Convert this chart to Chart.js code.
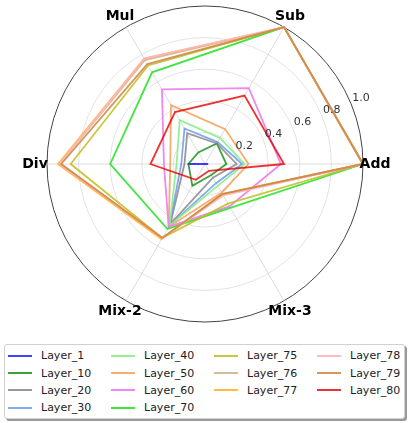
<!DOCTYPE html>
<html>
<head>
<meta charset="utf-8">
<script src="https://cdn.jsdelivr.net/npm/chart.js@4"></script>
<style>
  body { margin: 0; background: #fff; }
  #wrap { position: relative; width: 409px; height: 423px; }
  #radar { position: absolute; left: 0; top: 0; }
  #legend {
    position: absolute; left: 4px; top: 344px; width: 396px; height: 71px;
    border: 1px solid #d0d0d0; border-radius: 3px;
    box-shadow: 2px 2px 0 #9a9a9a; background: #fff;
    display: grid; grid-template-columns: repeat(4, 103px); grid-template-rows: repeat(4, 17.4px);
    padding: 2px 0 0 3px; box-sizing: content-box;
    font: 11px "DejaVu Sans", sans-serif; color: #222;
  }
  .item { display: flex; align-items: center; }
  .swatch { width: 24px; height: 2px; margin-right: 9px; }
</style>
</head>
<body>
<div id="wrap">
  <canvas id="radar" width="409" height="335"></canvas>
  <div id="legend"></div>
</div>
<script>
// axes in the original counter-clockwise order, starting at the right
const categories = ["Add", "Sub", "Mul", "Div", "Mix-2", "Mix-3"];
const tickValues = [0.2, 0.4, 0.6, 0.8, 1.0];

const layerNames = ["Layer_1", "Layer_10", "Layer_20", "Layer_30", "Layer_40", "Layer_50", "Layer_60",
  "Layer_70", "Layer_75", "Layer_76", "Layer_77", "Layer_78", "Layer_79", "Layer_80"];

const layer1  = [0.02, 0.0, 0.0, 0.11, 0.0, 0.0];
const layer10 = [0.135, 0.15, 0.085, 0.105, 0.16, 0.08];
const layer20 = [0.20, 0.15, 0.225, 0.13, 0.44, 0.10];
const layer30 = [0.235, 0.16, 0.26, 0.15, 0.45, 0.14];
const layer40 = [0.25, 0.19, 0.32, 0.18, 0.45, 0.16];
const layer50 = [0.275, 0.255, 0.43, 0.22, 0.46, 0.21];
const layer60 = [0.48, 0.555, 0.545, 0.26, 0.46, 0.31];
const layer70 = [1.0, 1.0, 0.67, 0.60, 0.475, 0.32];
const layer75 = [1.0, 1.0, 0.72, 0.85, 0.54, 0.29];
const layer76 = [1.0, 1.0, 0.76, 0.92, 0.54, 0.22];
const layer77 = [1.0, 1.0, 0.77, 0.93, 0.55, 0.22];
const layer78 = [1.0, 1.0, 0.77, 0.92, 0.54, 0.23];
const layer79 = [1.0, 1.0, 0.73, 0.91, 0.54, 0.22];
const layer80 = [0.50, 0.50, 0.38, 0.345, 0.115, 0.05];

const layerValues = [layer1, layer10, layer20, layer30, layer40, layer50, layer60,
  layer70, layer75, layer76, layer77, layer78, layer79, layer80];

const colors = [
  "rgba(0,0,255,0.75)", "rgba(0,128,0,0.75)", "rgba(128,128,128,0.8)", "rgba(100,149,237,0.8)",
  "rgba(144,238,144,0.95)", "rgba(244,164,96,0.9)", "rgba(238,130,238,0.95)", "rgba(30,225,30,0.85)",
  "rgba(190,190,30,0.85)", "rgba(210,180,140,0.9)", "rgba(255,165,0,0.75)", "rgba(255,182,193,0.95)",
  "rgba(205,133,63,0.85)", "rgba(230,0,0,0.8)"
];

// chart.js goes clockwise, so walk the axes backwards from "Add"
const order = [0, 5, 4, 3, 2, 1];
const labels = order.map(i => categories[i]);

const datasets = layerNames.map((name, k) => ({
  label: name,
  data: order.map(i => layerValues[k][i]),
  borderColor: colors[k],
  borderWidth: 1.8,
  pointRadius: 0,
  fill: false,
  tension: 0,
  order: layerNames.length - k
}));

const labelPlugin = {
  id: "mplLabels",
  afterDatasetsDraw(chart) {
    const scale = chart.scales.r;
    const ctx = chart.ctx;
    ctx.save();
    ctx.textAlign = "center";
    ctx.textBaseline = "middle";

    ctx.fillStyle = "#333";
    ctx.font = '11px "DejaVu Sans"';
    const a = 22.5 * Math.PI / 180;
    tickValues.forEach(v => {
      const r = scale.getDistanceFromCenterForValue(v);
      const x = scale.xCenter + r * Math.cos(a) + 10;
      const y = scale.yCenter - r * Math.sin(a) - 5.7;
      ctx.fillText(v.toFixed(1), x, y);
    });

    ctx.fillStyle = "#000";
    ctx.font = 'bold 14px "DejaVu Sans"';
    labels.forEach((lab, i) => {
      const p = scale.getPointPosition(i, scale.drawingArea + 12);
      ctx.fillText(lab, p.x, p.y);
    });
    ctx.restore();
  }
};

new Chart(document.getElementById("radar"), {
  type: "radar",
  data: { labels: labels, datasets: datasets },
  options: {
    responsive: false,
    animation: false,
    layout: { padding: { left: 47, right: 46, top: 6, bottom: 13 } },
    plugins: { legend: { display: false }, tooltip: { enabled: false } },
    scales: {
      r: {
        min: 0,
        max: 1,
        startAngle: 90,
        ticks: { display: false, stepSize: 0.2 },
        pointLabels: { display: false },
        angleLines: { color: "#d3d3d3", lineWidth: 0.8 },
        grid: {
          circular: true,
          color: c => c.index === 5 ? "#444" : "#dcdcdc",
          lineWidth: c => c.index === 5 ? 1 : 0.8
        }
      }
    }
  },
  plugins: [labelPlugin]
});

// legend laid out like matplotlib: 4 columns, filled column by column (4,4,3,3)
const legend = document.getElementById("legend");
const perCol = [4, 4, 3, 3];
let k = 0;
perCol.forEach((n, col) => {
  for (let row = 0; row < n; row++) {
    const item = document.createElement("div");
    item.className = "item";
    item.style.gridColumn = String(col + 1);
    item.style.gridRow = String(row + 1);
    const sw = document.createElement("div");
    sw.className = "swatch";
    sw.style.background = colors[k];
    item.appendChild(sw);
    item.appendChild(document.createTextNode(layerNames[k]));
    legend.appendChild(item);
    k++;
  }
});
</script>
</body>
</html>
